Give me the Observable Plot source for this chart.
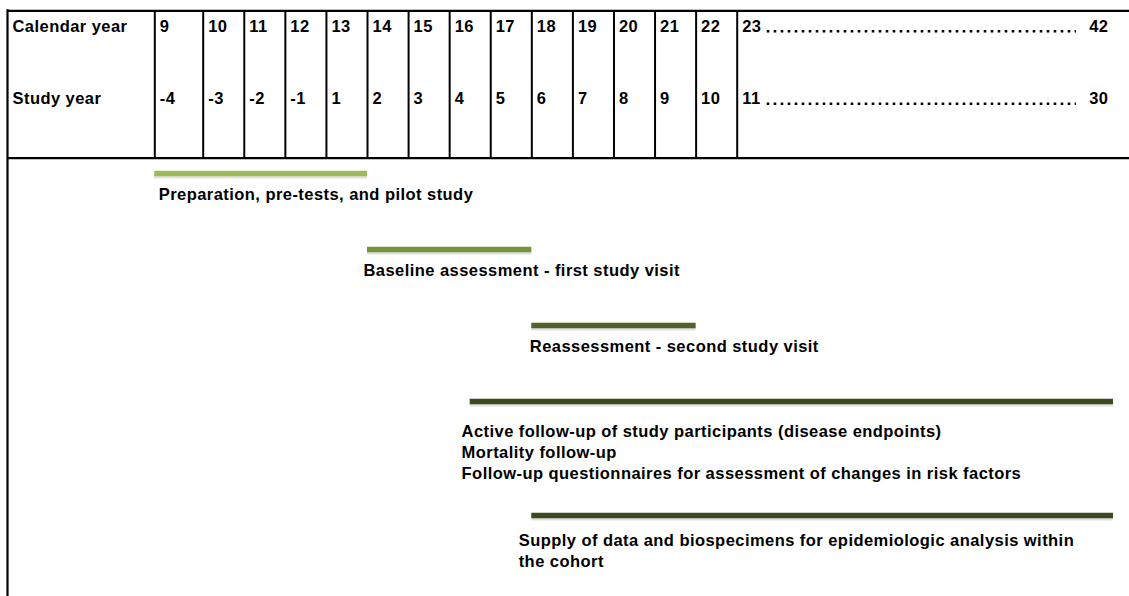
<!DOCTYPE html>
<html>
<head>
<meta charset="utf-8">
<script src="https://cdn.jsdelivr.net/npm/d3@7"></script>
<script src="https://cdn.jsdelivr.net/npm/@observablehq/plot@0.6"></script>
<style>
  html, body { margin: 0; padding: 0; background: #fff; }
  #chart svg text { letter-spacing: 0.45px; }
</style>
</head>
<body>
<div id="chart"></div>
<script>
// ---- data ----
const rowLabels = ["Calendar year", "Study year"];
const calendarYears = [9, 10, 11, 12, 13, 14, 15, 16, 17, 18, 19, 20, 21, 22];
const studyYears = ["-4", "-3", "-2", "-1", "1", "2", "3", "4", "5", "6", "7", "8", "9", "10"];
const lastCalendarRange = ["23", "42"];
const lastStudyRange = ["11", "30"];
const taskLabels = [
  "Preparation, pre-tests, and pilot study",
  "Baseline assessment - first study visit",
  "Reassessment - second study visit",
  "Active follow-up of study participants (disease endpoints)\nMortality follow-up\nFollow-up questionnaires for assessment of changes in risk factors",
  "Supply of data and biospecimens for epidemiologic analysis within\nthe cohort"
];
const taskStart = [9, 14, 18, 16.5, 18];
const taskEnd = [14, 18, 22, 43, 43];
const labelStart = [9.08, 13.9, 17.95, 16.29, 17.68];

// ---- layout (computed, not data) ----
const W = 1129, H = 596;
const headerTop = 10.4, headerBottom = 157.6, row1Y = 26, row2Y = 98.5;
const tableLeft = 0;          // x value of the row-label column
const lastCol = 23, endCol = 43;
const lineCounts = taskLabels.map(s => s.split("\n").length);
const barY = [];
lineCounts.forEach((n, i) => barY.push(i === 0 ? 173 : barY[i - 1] + 57 + 19 * lineCounts[i - 1]));
const tasks = taskLabels.map((label, i) => ({
  label, start: taskStart[i], end: taskEnd[i], lx: labelStart[i], y: barY[i], lines: lineCounts[i]
}));
const boundaries = [...calendarYears, lastCol];

const font = "'Liberation Sans', Arial, Helvetica, sans-serif";
const fs = 16.5;

const chart = Plot.plot({
  width: W,
  height: H,
  margin: 0,
  style: { fontFamily: font, fontWeight: "bold", background: "#fff", overflow: "visible" },
  x: { type: "linear", domain: [tableLeft, 9, 10, lastCol, endCol], range: [7, 154.3, 202.7, 736.7, 1113], axis: null },
  y: { type: "linear", domain: [0, H], range: [0, H], axis: null },
  color: { domain: taskLabels, range: ["#9bbb59", "#77933c", "#4f6228", "#3b4a1e", "#3b4a1e"] },
  marks: [
    // table frame
    Plot.ruleY([headerTop, headerBottom], { y: d => d, x1: () => tableLeft, x2: () => 44, stroke: "#000", strokeWidth: 2.4 }),
    Plot.ruleX(boundaries, { x: d => d, y1: () => headerTop, y2: () => headerBottom, stroke: "#000", strokeWidth: 2 }),
    Plot.ruleX([tableLeft], { x: d => d, y1: () => headerTop - 1.2, y2: () => H, stroke: "#000", strokeWidth: 2.2 }),
    // header texts
    Plot.text(rowLabels, { x: () => tableLeft, y: (d, i) => (i ? row2Y : row1Y), text: d => d, dx: 5, textAnchor: "start", fontSize: fs, fontWeight: "bold", fill: "#000" }),
    Plot.text(calendarYears, { x: d => d, y: () => row1Y, text: d => String(d), dx: 5, textAnchor: "start", fontSize: fs, fontWeight: "bold", fill: "#000" }),
    Plot.text(studyYears, { x: (d, i) => calendarYears[i], y: () => row2Y, text: d => d, dx: 5, textAnchor: "start", fontSize: fs, fontWeight: "bold", fill: "#000" }),
    Plot.text([lastCalendarRange[0], lastStudyRange[0]], { x: () => lastCol, y: (d, i) => (i ? row2Y : row1Y), text: d => d, dx: 5, textAnchor: "start", fontSize: fs, fontWeight: "bold", fill: "#000" }),
    Plot.text([lastCalendarRange[1], lastStudyRange[1]], { x: () => endCol, y: (d, i) => (i ? row2Y : row1Y), text: d => d, dx: -5, textAnchor: "end", fontSize: fs, fontWeight: "bold", fill: "#000" }),
    // dotted leaders
    Plot.ruleY([row1Y, row2Y], { y: d => d + 4.8, x1: () => lastCol, x2: () => endCol, insetLeft: 30, insetRight: 37, stroke: "#000", strokeWidth: 2.6, strokeDasharray: "2.6,4.4" }),
    // bar shadows
    Plot.ruleY(tasks, { x1: "start", x2: "end", y: "y", dy: 2, stroke: "#000", strokeOpacity: 0.12, strokeWidth: 6 }),
    // bars
    Plot.ruleY(tasks, { x1: "start", x2: "end", y: "y", stroke: "label", strokeWidth: 5.5 }),
    // labels
    Plot.text(tasks, { x: "lx", y: d => d.y + 11 + 4.5 * (d.lines - 1), text: "label", textAnchor: "start", lineAnchor: "top", lineHeight: 1.28, fontSize: fs, fontWeight: "bold", fill: "#000" })
  ]
});
document.getElementById("chart").appendChild(chart);
</script>
</body>
</html>
